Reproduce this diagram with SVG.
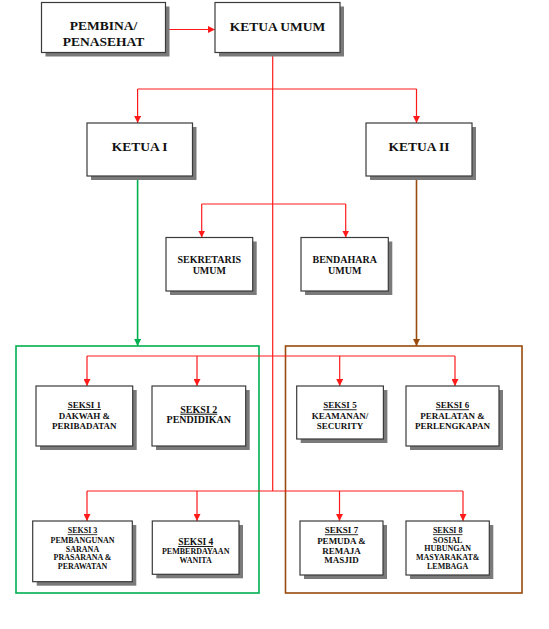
<svg xmlns="http://www.w3.org/2000/svg" width="549" height="629" viewBox="0 0 549 629">
<style>
.box{fill:#ffffff;stroke:#3a3a3a;stroke-width:1.2}
.sh{fill:#7a7a7a}
.t{font-family:"Liberation Serif","Times New Roman",serif;font-weight:bold;fill:#111;text-anchor:middle}
.big{font-size:13.5px}
.mid{font-size:10px}
.sm{font-size:9px}
.xs{font-size:8px}
.u{text-decoration:underline}
.red{stroke:#ff1a1a;stroke-width:1.2;fill:none}
.grn{stroke:#00b050;stroke-width:1.6;fill:none}
.brn{stroke:#9a4a0c;stroke-width:1.6;fill:none}
</style>
<defs>
<marker id="ar" viewBox="0 0 10 10" refX="10" refY="5" markerWidth="7" markerHeight="7" markerUnits="userSpaceOnUse" orient="auto"><path d="M0,0L10,5L0,10z" fill="#ff1a1a"/></marker>
<marker id="ag" viewBox="0 0 10 10" refX="10" refY="5" markerWidth="7" markerHeight="7" markerUnits="userSpaceOnUse" orient="auto"><path d="M0,0L10,5L0,10z" fill="#00b050"/></marker>
<marker id="ab" viewBox="0 0 10 10" refX="10" refY="5" markerWidth="7" markerHeight="7" markerUnits="userSpaceOnUse" orient="auto"><path d="M0,0L10,5L0,10z" fill="#9a4a0c"/></marker>
</defs>
<rect width="549" height="629" fill="#ffffff"/>

<g id="frames">
<rect class="grn" x="16" y="346" width="243" height="247"/>
<rect class="brn" x="285.5" y="346" width="236.5" height="247"/>
</g>

<g id="connectors">
<path class="red" d="M166,29.5H215" marker-end="url(#ar)"/>
<path class="red" d="M272.7,52.5V491"/>
<path class="red" d="M137.6,89H416.5"/>
<path class="red" d="M137.6,89V123" marker-end="url(#ar)"/>
<path class="red" d="M416.5,89V123" marker-end="url(#ar)"/>
<path class="red" d="M201.7,204H345.7"/>
<path class="red" d="M201.7,204V237.5" marker-end="url(#ar)"/>
<path class="red" d="M345.7,204V237.5" marker-end="url(#ar)"/>
<path class="grn" d="M137.6,176V346" marker-end="url(#ag)"/>
<path class="brn" d="M416.5,176V346" marker-end="url(#ab)"/>
<path class="red" d="M87,356H455"/>
<path class="red" d="M87,356V386" marker-end="url(#ar)"/>
<path class="red" d="M197,356V386" marker-end="url(#ar)"/>
<path class="red" d="M339.7,356V386" marker-end="url(#ar)"/>
<path class="red" d="M455,356V386" marker-end="url(#ar)"/>
<path class="red" d="M87,491H463"/>
<path class="red" d="M87,491V521" marker-end="url(#ar)"/>
<path class="red" d="M197,491V521" marker-end="url(#ar)"/>
<path class="red" d="M339.5,491V521" marker-end="url(#ar)"/>
<path class="red" d="M463,491V521" marker-end="url(#ar)"/>
</g>

<g id="pembina">
<rect class="sh" x="45.5" y="6.5" width="124" height="50"/>
<rect class="box" x="41.5" y="2.5" width="124" height="50"/>
<text class="t big" x="103.5" y="30">PEMBINA/</text>
<text class="t big" x="103.5" y="45.7">PENASEHAT</text>
</g>

<g id="ketua_umum">
<rect class="sh" x="219" y="6.5" width="125" height="50"/>
<rect class="box" x="215" y="2.5" width="125" height="50"/>
<text class="t big" x="277.5" y="30.5">KETUA UMUM</text>
</g>

<g id="ketua1">
<rect class="sh" x="91" y="127" width="105.5" height="53"/>
<rect class="box" x="87" y="123" width="105.5" height="53"/>
<text class="t big" x="139.7" y="151">KETUA I</text>
</g>

<g id="ketua2">
<rect class="sh" x="370" y="127" width="106" height="53"/>
<rect class="box" x="366" y="123" width="106" height="53"/>
<text class="t big" x="419" y="151">KETUA II</text>
</g>

<g id="sekretaris">
<rect class="sh" x="170" y="241.5" width="86.7" height="53.5"/>
<rect class="box" x="166" y="237.5" width="86.7" height="53.5"/>
<text class="t mid" x="209.3" y="262.7">SEKRETARIS</text>
<text class="t mid" x="209.3" y="274">UMUM</text>
</g>

<g id="bendahara">
<rect class="sh" x="305" y="241.5" width="87.3" height="53.5"/>
<rect class="box" x="301" y="237.5" width="87.3" height="53.5"/>
<text class="t mid" x="344.7" y="262.7">BENDAHARA</text>
<text class="t mid" x="344.7" y="274">UMUM</text>
</g>

<g id="seksi1">
<rect class="sh" x="40" y="390" width="96.7" height="60"/>
<rect class="box" x="36" y="386" width="96.7" height="60"/>
<text class="t sm u" x="84.3" y="408">SEKSI 1</text>
<text class="t sm" x="84.3" y="419.3">DAKWAH &amp;</text>
<text class="t sm" x="84.3" y="429.3">PERIBADATAN</text>
</g>

<g id="seksi2">
<rect class="sh" x="156" y="390" width="93.7" height="60"/>
<rect class="box" x="152" y="386" width="93.7" height="60"/>
<text class="t mid u" x="198.8" y="412.7">SEKSI 2</text>
<text class="t mid" x="198.8" y="423.3">PENDIDIKAN</text>
</g>

<g id="seksi5">
<rect class="sh" x="300.7" y="390" width="86.7" height="53"/>
<rect class="box" x="296.7" y="386" width="86.7" height="53"/>
<text class="t sm u" x="340" y="408.3">SEKSI 5</text>
<text class="t sm" x="340" y="419.3">KEAMANAN/</text>
<text class="t sm" x="340" y="429.3">SECURITY</text>
</g>

<g id="seksi6">
<rect class="sh" x="410" y="390" width="93" height="60"/>
<rect class="box" x="406" y="386" width="93" height="60"/>
<text class="t sm u" x="452.5" y="408.3">SEKSI 6</text>
<text class="t sm" x="452.5" y="419.3">PERALATAN &amp;</text>
<text class="t sm" x="452.5" y="429.3">PERLENGKAPAN</text>
</g>

<g id="seksi3">
<rect class="sh" x="36.7" y="525" width="99.6" height="60.7"/>
<rect class="box" x="32.7" y="521" width="99.6" height="60.7"/>
<text class="t xs u" x="82.5" y="533.3">SEKSI 3</text>
<text class="t xs" x="82.5" y="542.7">PEMBANGUNAN</text>
<text class="t xs" x="82.5" y="551.7">SARANA</text>
<text class="t xs" x="82.5" y="560.2">PRASARANA &amp;</text>
<text class="t xs" x="82.5" y="568.5">PERAWATAN</text>
</g>

<g id="seksi4">
<rect class="sh" x="156.3" y="525" width="86.7" height="53.3"/>
<rect class="box" x="152.3" y="521" width="86.7" height="53.3"/>
<text class="t u" style="font-size:9.5px" x="195.7" y="545">SEKSI 4</text>
<text class="t xs" x="195.7" y="553.5">PEMBERDAYAAN</text>
<text class="t xs" x="195.7" y="563.3">WANITA</text>
</g>

<g id="seksi7">
<rect class="sh" x="304" y="525" width="83" height="54"/>
<rect class="box" x="300" y="521" width="83" height="54"/>
<text class="t sm u" x="341.5" y="533.3">SEKSI 7</text>
<text class="t sm" x="341.5" y="544">PEMUDA &amp;</text>
<text class="t sm" x="341.5" y="553.7">REMAJA</text>
<text class="t sm" x="341.5" y="563.3">MASJID</text>
</g>

<g id="seksi8">
<rect class="sh" x="410" y="525" width="83.3" height="54"/>
<rect class="box" x="406" y="521" width="83.3" height="54"/>
<text class="t xs u" x="447.7" y="533.3">SEKSI 8</text>
<text class="t xs" x="447.7" y="542.7">SOSIAL</text>
<text class="t xs" x="447.7" y="551.3">HUBUNGAN</text>
<text class="t xs" x="447.7" y="560.3">MASYARAKAT&amp;</text>
<text class="t xs" x="447.7" y="569">LEMBAGA</text>
</g>
</svg>
